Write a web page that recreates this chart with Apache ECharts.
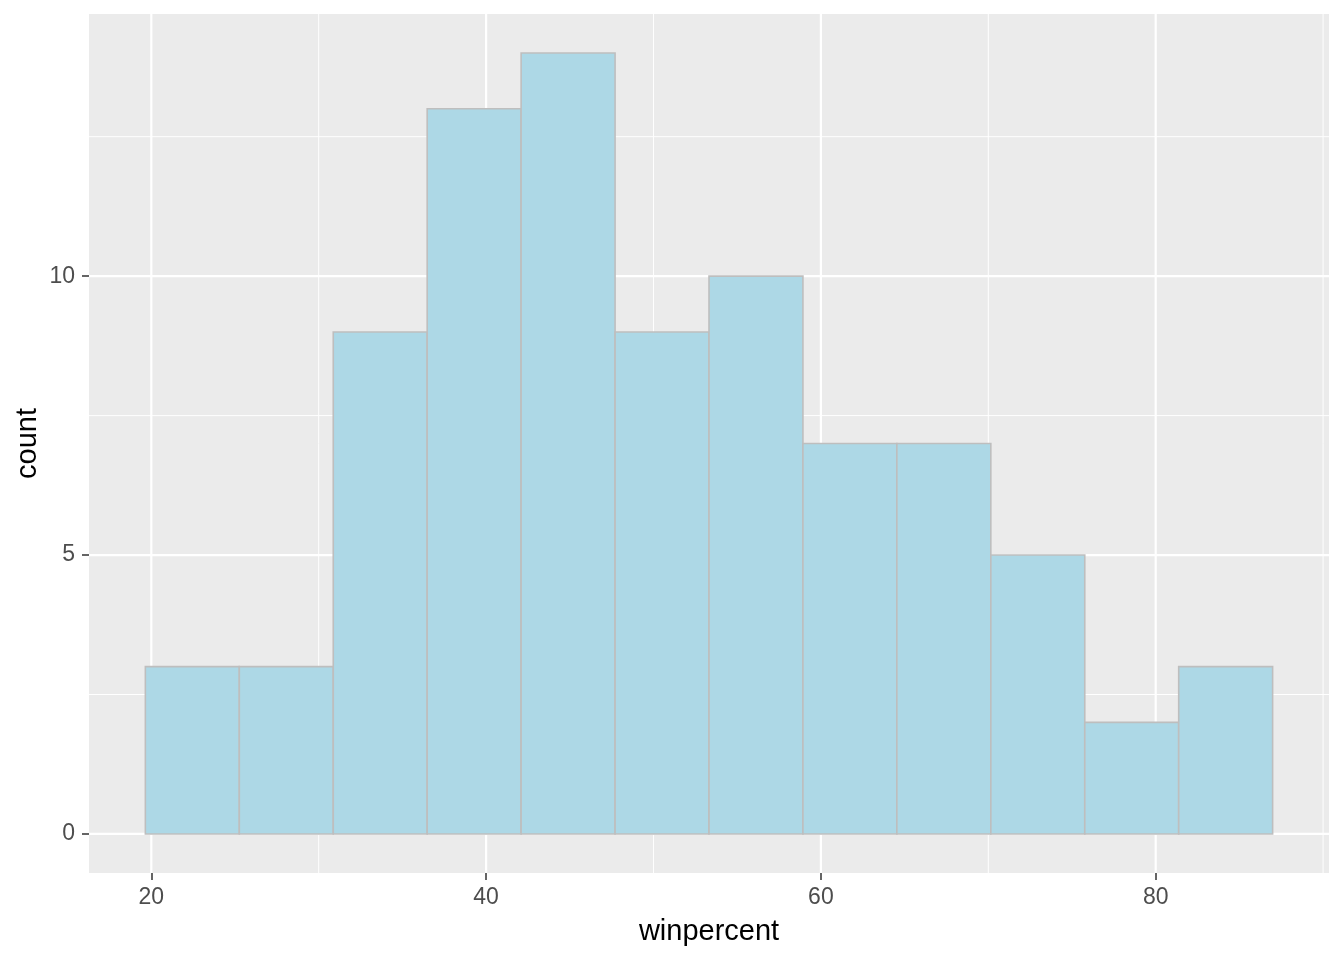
<!DOCTYPE html>
<html>
<head>
<meta charset="utf-8">
<script src="https://cdn.jsdelivr.net/npm/echarts@6/dist/echarts.min.js"></script>
<style>html,body{margin:0;padding:0;background:#fff;}#chart{width:1344px;height:960px;}</style>
</head>
<body>
<div id="chart"></div>
<script>
// Histogram bins (edges) and counts
var binEdges = [19.645, 25.257, 30.869, 36.480, 42.092, 47.704, 53.316, 58.927, 64.539, 70.151, 75.763, 81.374, 86.986];
var counts = [3, 3, 9, 13, 14, 9, 10, 7, 7, 5, 2, 3];
var xTicks = [20, 40, 60, 80];
var xMinor = [30, 50, 70, 90];
var yTicks = [0, 5, 10];
var yMinor = [2.5, 7.5, 12.5];

var barData = counts.map(function (c, i) { return [binEdges[i], binEdges[i + 1], c]; });

function gridLineSeries(vals, dir, width) {
  return {
    type: 'custom',
    silent: true,
    z: 1,
    data: vals.map(function (v) { return [v]; }),
    renderItem: function (params, api) {
      var cs = params.coordSys;
      var v = api.value(0);
      var shape;
      if (dir === 'x') {
        var px = api.coord([v, 0])[0];
        shape = { x1: px, y1: cs.y, x2: px, y2: cs.y + cs.height };
      } else {
        var py = api.coord([0, v])[1];
        shape = { x1: cs.x, y1: py, x2: cs.x + cs.width, y2: py };
      }
      return { type: 'line', shape: shape, style: { stroke: '#FFFFFF', lineWidth: width } };
    }
  };
}

var chart = echarts.init(document.getElementById('chart'), null, { renderer: 'canvas' });
chart.setOption({
  animation: false,
  backgroundColor: '#FFFFFF',
  grid: {
    left: 89, right: 15, top: 14, bottom: 87,
    show: true, backgroundColor: '#EBEBEB', borderWidth: 0
  },
  xAxis: {
    type: 'value',
    min: 16.278, max: 90.353,
    name: 'winpercent',
    nameLocation: 'middle',
    nameGap: 44,
    nameMoveOverlap: false,
    nameTextStyle: { color: '#000000', fontSize: 29, fontFamily: 'Liberation Sans' },
    axisLine: { show: false, onZero: false },
    splitLine: { show: false },
    axisTick: { show: true, customValues: xTicks, length: 7, lineStyle: { color: '#333333', width: 1.5 } },
    axisLabel: { customValues: xTicks, margin: 13, color: '#4D4D4D', fontSize: 23, fontFamily: 'Liberation Sans' }
  },
  yAxis: {
    type: 'value',
    min: -0.7, max: 14.7,
    name: 'count',
    nameLocation: 'middle',
    nameGap: 47,
    nameMoveOverlap: false,
    nameRotate: 90,
    nameTextStyle: { color: '#000000', fontSize: 29, fontFamily: 'Liberation Sans' },
    axisLine: { show: false, onZero: false },
    splitLine: { show: false },
    axisTick: { show: true, customValues: yTicks, length: 7, lineStyle: { color: '#333333', width: 1.5 } },
    axisLabel: { customValues: yTicks, margin: 14, color: '#4D4D4D', fontSize: 23, fontFamily: 'Liberation Sans' }
  },
  series: [
    gridLineSeries(xMinor, 'x', 1),
    gridLineSeries(yMinor, 'y', 1),
    gridLineSeries(xTicks, 'x', 2.2),
    gridLineSeries(yTicks, 'y', 2.2),
    {
      type: 'custom',
      z: 5,
      data: barData,
      renderItem: function (params, api) {
        var p0 = api.coord([api.value(0), api.value(2)]);
        var p1 = api.coord([api.value(1), 0]);
        return {
          type: 'rect',
          shape: { x: p0[0], y: p0[1], width: p1[0] - p0[0], height: p1[1] - p0[1] },
          style: { fill: '#ADD8E6', stroke: '#BEBEBE', lineWidth: 1.6 }
        };
      }
    }
  ]
});
</script>
</body>
</html>
